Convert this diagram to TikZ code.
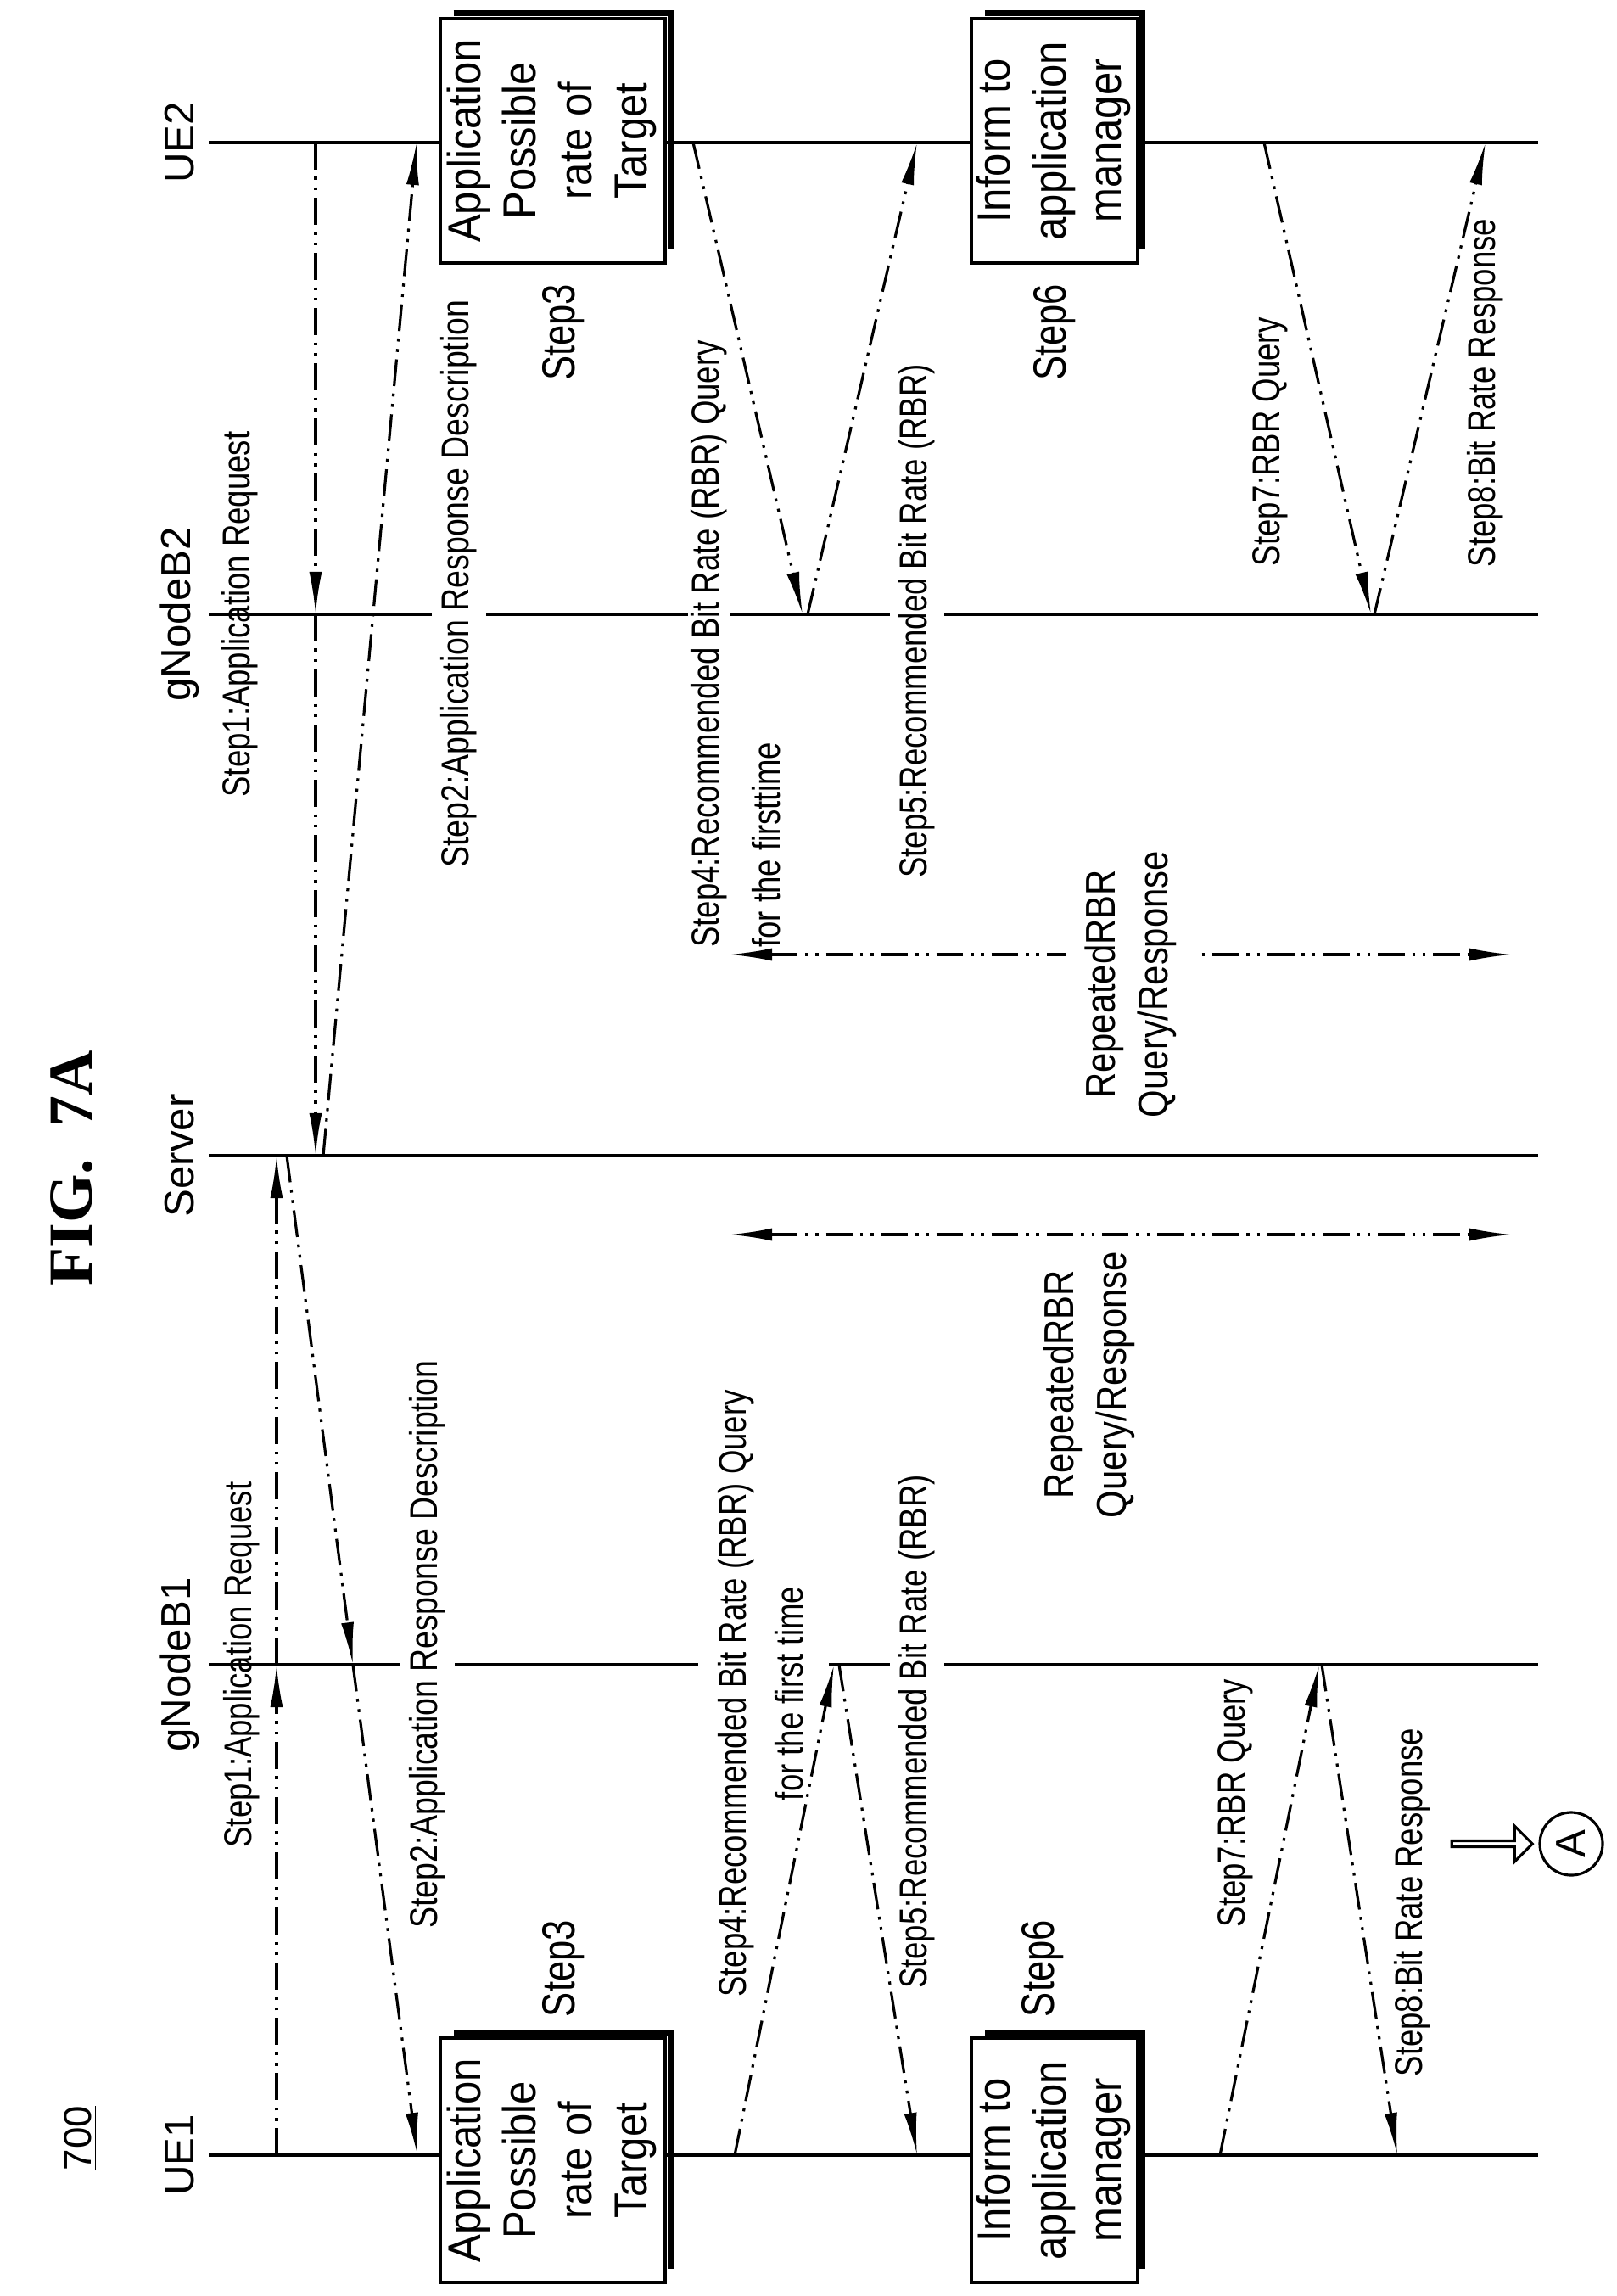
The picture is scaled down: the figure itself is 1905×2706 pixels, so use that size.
\documentclass[tikz,border=0pt]{standalone}
\usepackage{fontspec}
\setmainfont{Liberation Sans}
\newfontfamily\serifb{Liberation Serif}
\usetikzlibrary{arrows.meta,shapes.arrows}
\newcommand\cnd[2]{\scalebox{#1}[1]{#2}}
\begin{document}
\begin{tikzpicture}[x=0.01cm,y=-0.01cm,
  life/.style={line width=1.1pt},
  dd/.style={line width=0.9pt,dash pattern=on 9pt off 2.5pt on 1pt off 2.5pt on 1pt off 2.5pt},
  arr/.style={-{Latex[length=5mm,width=1.5mm]}},
  darr/.style={{Latex[length=5mm,width=1.5mm]}-{Latex[length=5mm,width=1.5mm]}},
  lab/.style={inner sep=1pt,font=\fontsize{13}{19}\selectfont},
  labw/.style={lab,fill=white,inner sep=3pt},
  big/.style={inner sep=1pt,font=\fontsize{14}{17.5}\selectfont},
  stp/.style={inner sep=1pt,font=\fontsize{15.5}{17.5}\selectfont},
  boxs/.style={draw,line width=1.1pt,fill=white,minimum width=2.65cm,minimum height=2.88cm,inner sep=0pt,font=\fontsize{15.5}{18.5}\selectfont}]
\useasboundingbox (0,0) rectangle (1905,2706);
% lifelines
\foreach \n/\y in {ue2/168,gb2/724,srv/1362,gb1/1962,ue1/2540}{
  \coordinate (\n-a) at (246,\y); \coordinate (\n-b) at (1813,\y);
  \draw[life] (\n-a) -- (\n-b);}
% actor labels
\node[big] (lue2) at (212,168) {\rotatebox{90}{UE2}};
\node[big] (lgb2) at (212,724) {\rotatebox{90}{gNodeB2}};
\node[big] (lsrv) at (212,1362) {\rotatebox{90}{Server}};
\node[big] (lgb1) at (212,1962) {\rotatebox{90}{gNodeB1}};
\node[big] (lue1) at (212,2540) {\rotatebox{90}{UE1}};
\node[font=\serifb\bfseries\fontsize{21}{21}\selectfont] (fig) at (85,1377) {\rotatebox{90}{FIG.~~7A}};
\node[lab] (num) at (95,2520) {\rotatebox{90}{\underline{700}}};
% UE2 side labels
\node[lab] (t1u) at (283,724) {\rotatebox{90}{\cnd{0.8}{Step1:Application Request}}};
\node[labw] (t2u) at (541,688) {\rotatebox{90}{\cnd{0.82}{Step2:Application Response Description}}};
\node[stp] (t3u) at (664,392) {\rotatebox{90}{\cnd{0.8}{Step3}}};
\node[labw,anchor=south,inner sep=1pt] (t4u) at (836,1121) {\rotatebox{90}{\cnd{0.8}{Step4:Recommended Bit Rate (RBR) Query}}};
\node[lab,anchor=south] (t4u2) at (903,1121) {\rotatebox{90}{\cnd{0.8}{for the firsttime}}};
\node[labw] (t5u) at (1081,732) {\rotatebox{90}{\cnd{0.8}{Step5:Recommended Bit Rate (RBR)}}};
\node[stp] (t6u) at (1243,392) {\rotatebox{90}{\cnd{0.8}{Step6}}};
\node[lab] (t7u) at (1497,521) {\rotatebox{90}{\cnd{0.8}{Step7:RBR Query}}};
\node[lab] (t8u) at (1751,463) {\rotatebox{90}{\cnd{0.8}{Step8:Bit Rate Response}}};
% UE1 side labels
\node[lab] (t1d) at (285,1962) {\rotatebox{90}{\cnd{0.8}{Step1:Application Request}}};
\node[labw] (t2d) at (504,1938) {\rotatebox{90}{\cnd{0.82}{Step2:Application Response Description}}};
\node[stp] (t3d) at (664,2320) {\rotatebox{90}{\cnd{0.8}{Step3}}};
\node[labw] (t4d) at (900,1996) {\rotatebox{90}{\cnd{0.8}{\begin{tabular}{@{}c@{}}Step4:Recommended Bit Rate (RBR) Query\\ for the first time\end{tabular}}}};
\node[labw] (t5d) at (1081,2041) {\rotatebox{90}{\cnd{0.8}{Step5:Recommended Bit Rate (RBR)}}};
\node[stp] (t6d) at (1229,2320) {\rotatebox{90}{\cnd{0.8}{Step6}}};
\node[lab] (t7d) at (1456,2125) {\rotatebox{90}{\cnd{0.8}{Step7:RBR Query}}};
\node[lab] (t8d) at (1665,2242) {\rotatebox{90}{\cnd{0.8}{Step8:Bit Rate Response}}};
\node[big] (rpd) at (1284,1632) {\rotatebox{90}{\cnd{0.85}{\begin{tabular}{@{}c@{}}RepeatedRBR\\ Query/Response\end{tabular}}}};
% coordinates
\coordinate (a1) at (372,168); \coordinate (a2) at (372,724); \coordinate (a3) at (372,1362);
\coordinate (b1) at (381,1362); \coordinate (b2) at (491,168);
\coordinate (c1) at (817,168); \coordinate (c2) at (946,724);
\coordinate (d1) at (952,724); \coordinate (d2) at (1081,168);
\coordinate (e1) at (1490,168); \coordinate (e2) at (1616,724);
\coordinate (f1) at (1620,724); \coordinate (f2) at (1751,168);
\coordinate (g1) at (326,2540); \coordinate (g2) at (326,1962); \coordinate (g3) at (326,1362);
\coordinate (h1) at (338,1362); \coordinate (h2) at (416,1962); \coordinate (h3) at (492,2540);
\coordinate (i1) at (866,2540); \coordinate (i2) at (983,1962);
\coordinate (j1) at (989,1962); \coordinate (j2) at (1081,2540);
\coordinate (k1) at (1438,2540); \coordinate (k2) at (1555,1962);
\coordinate (l1) at (1558,1962); \coordinate (l2) at (1647,2540);
\coordinate (r1) at (860,1125); \coordinate (r2) at (1782,1125);
\coordinate (q1) at (860,1455); \coordinate (q2) at (1782,1455);
% connectors
\draw[dd,arr] (a1) -- (a2); \draw[dd,arr] (a2) -- (a3);
\draw[dd,arr] (b1) -- (b2);
\draw[dd,arr] (c1) -- (c2); \draw[dd,arr] (d1) -- (d2);
\draw[dd,arr] (e1) -- (e2); \draw[dd,arr] (f1) -- (f2);
\draw[dd,arr] (g1) -- (g2); \draw[dd,arr] (g2) -- (g3);
\draw[dd,arr] (h1) -- (h2); \draw[dd,arr] (h2) -- (h3);
\draw[dd,arr] (i1) -- (i2); \draw[dd,arr] (j1) -- (j2);
\draw[dd,arr] (k1) -- (k2); \draw[dd,arr] (l1) -- (l2);
\draw[dd,darr] (r1) -- (r2);
\draw[dd,darr] (q1) -- (q2);
\node[big,fill=white,inner sep=4pt] (rpu) at (1333,1160) {\rotatebox{90}{\cnd{0.85}{\begin{tabular}{@{}c@{}}RepeatedRBR\\ Query/Response\end{tabular}}}};
% boxes
\foreach \nm/\cx/\cy/\w/\txt in {bx1/651.5/166/2.65/{Application\\ Possible\\ rate of\\ Target},
  bx2/1243/166/1.80/{Inform to\\ application\\ manager},
  bx3/651.5/2546/2.65/{Application\\ Possible\\ rate of\\ Target},
  bx4/1243/2546/1.80/{Inform to\\ application\\ manager}}{
  \node[boxs,minimum width=\w cm] (\nm) at (\cx,\cy) {\rotatebox{90}{\cnd{0.9}{\begin{tabular}{@{}c@{}}\txt\end{tabular}}}};
  \draw[line width=1.9pt] ([xshift=5pt,yshift=1.2pt]\nm.north west) -- ([xshift=1.2pt,yshift=1.2pt]\nm.north east) -- ([xshift=1.2pt,yshift=5pt]\nm.south east);
}
% continuation mark
\node[draw,single arrow,line width=0.9pt,minimum height=0.95cm,minimum width=0.42cm,single arrow head extend=0.08cm,inner sep=0pt] (harr) at (1757,2173) {};
\node[draw,circle,line width=0.9pt,minimum size=0.74cm,inner sep=0pt,font=\fontsize{14}{14}\selectfont] (ca) at (1852,2173) {\rotatebox{90}{A}};
\end{tikzpicture}
\end{document}
